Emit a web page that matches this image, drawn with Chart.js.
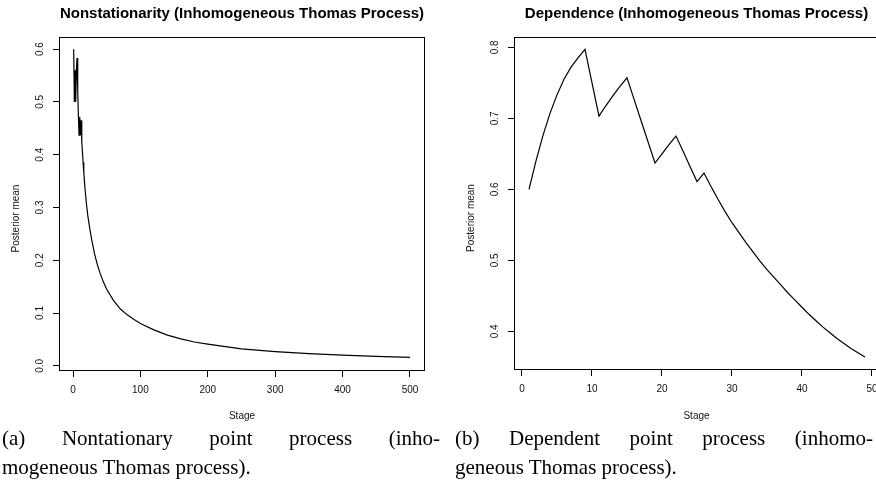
<!DOCTYPE html>
<html>
<head>
<meta charset="utf-8">
<script src="https://cdn.jsdelivr.net/npm/chart.js@4.4.1/dist/chart.umd.min.js"></script>
<style>
    body { margin: 0; width: 876px; height: 499px; overflow: hidden; background: #fff; position: relative; }
    .panel { position: absolute; top: 0; height: 430px; }
    .caption { position: absolute; top: 424px; font-family: "Liberation Serif", "Times New Roman", serif; font-size: 21px; line-height: 29px; color: #000; }
    .caption .first { text-align: justify; text-align-last: justify; }
</style>
</head>
<body>
<div class="panel" style="left:0;width:440px"><canvas id="nonstatChart"></canvas></div>
<div class="panel" style="left:440px;width:460px"><canvas id="depChart"></canvas></div>
<div class="caption" style="left:2px;width:438px">
    <div class="first">(a) Nontationary point process (inho-</div>
    <div>mogeneous Thomas process).</div>
</div>
<div class="caption" style="left:455px;width:418px">
    <div class="first">(b) Dependent point process (inhomo-</div>
    <div>geneous Thomas process).</div>
</div>

<script>
// === Data ===

// (a) nonstationary process: posterior mean by stage
const nonstatStages = [1, 2, 3, 4, 5, 6, 7, 8, 9, 10, 11, 12, 13, 14, 15, 16, 17, 18,
    20, 22, 25, 28, 32, 36, 40, 45, 50, 60, 70, 80, 90, 100,
    120, 140, 160, 180, 200, 250, 300, 350, 400, 450, 500];
const nonstatMeans = [0.600, 0.500, 0.560, 0.500, 0.560, 0.583, 0.520, 0.472, 0.437, 0.472, 0.437, 0.465, 0.425, 0.405, 0.385, 0.367, 0.349, 0.333,
    0.306, 0.284, 0.259, 0.237, 0.212, 0.192, 0.176, 0.159, 0.145, 0.124, 0.108, 0.097, 0.088, 0.080,
    0.068, 0.058, 0.051, 0.045, 0.041, 0.032, 0.027, 0.023, 0.020, 0.018, 0.016];
const nonstatXTicks = [0, 100, 200, 300, 400, 500];
const nonstatYTicks = [0.0, 0.1, 0.2, 0.3, 0.4, 0.5, 0.6];

// (b) dependent process: posterior mean by stage
const depStages = [1, 2, 3, 4, 5, 6, 7, 8, 9, 10, 11, 12, 13, 14, 15, 16, 17, 18, 19, 20,
    21, 22, 23, 24, 25, 26, 27, 28, 29, 30, 31, 32, 33, 34, 35, 36, 37, 38, 39, 40,
    41, 42, 43, 44, 45, 46, 47, 48, 49];
const depMeans = [0.600, 0.640, 0.676, 0.707, 0.733, 0.755, 0.772, 0.785, 0.797, 0.750,
    0.703, 0.718, 0.732, 0.745, 0.757, 0.727, 0.697, 0.667, 0.637, 0.650,
    0.663, 0.675, 0.654, 0.632, 0.611, 0.623, 0.604, 0.586, 0.569, 0.553,
    0.539, 0.525, 0.512, 0.499, 0.487, 0.476, 0.465, 0.454, 0.444, 0.434,
    0.424, 0.415, 0.406, 0.398, 0.390, 0.383, 0.376, 0.370, 0.364];
const depXTicks = [0, 10, 20, 30, 40, 50];
const depYTicks = [0.4, 0.5, 0.6, 0.7, 0.8];

const sansFont = "'Liberation Sans', Arial, Helvetica, sans-serif";

// R-like frame around the plot region, bold main title and the y label
const framePlugin = {
    id: "frame",
    afterDraw(chart, args, opts) {
        const { ctx, chartArea } = chart;
        ctx.save();
        ctx.strokeStyle = "#000";
        ctx.lineWidth = 1;
        const l = Math.round(chartArea.left) - 0.5;
        const t = Math.round(chartArea.top) + 0.5;
        const r = Math.round(chartArea.right) + 0.5;
        const b = Math.round(chartArea.bottom) + 0.5;
        ctx.strokeRect(l, t, r - l, b - t);

        ctx.fillStyle = "#000";
        ctx.font = "bold 15px " + sansFont;
        ctx.textAlign = "center";
        ctx.textBaseline = "middle";
        ctx.fillText(opts.text, (chartArea.left + chartArea.right) / 2, opts.y);

        // y label sits a little below the middle of the frame in the original
        ctx.fillStyle = "#111";
        ctx.font = "10px " + sansFont;
        ctx.translate(chartArea.left - opts.ylabGap, (chartArea.top + chartArea.bottom) / 2 + opts.ylabShift);
        ctx.rotate(-Math.PI / 2);
        ctx.fillText(opts.ylab, 0, 0);
        ctx.restore();
    }
};

function drawPanel(canvasId, stages, means, xTicks, yTicks, cfg) {
    const ctx = document.getElementById(canvasId).getContext("2d");
    const points = stages.map((s, i) => ({ x: s, y: means[i] }));

    const tickGrid = {
        display: true,
        drawOnChartArea: false,
        drawTicks: true,
        tickLength: 7,
        color: "#000",
        lineWidth: 1
    };

    new Chart(ctx, {
        type: "line",
        data: {
            datasets: [{
                data: points,
                borderColor: "#000",
                borderWidth: 1.2,
                pointRadius: 0,
                tension: 0,
                fill: false
            }]
        },
        options: {
            responsive: true,
            maintainAspectRatio: false,
            animation: false,
            layout: { padding: { top: 37, right: cfg.padRight, left: 0, bottom: 0 } },
            scales: {
                x: {
                    type: "linear",
                    min: cfg.xMin,
                    max: cfg.xMax,
                    afterBuildTicks: s => { s.ticks = xTicks.map(v => ({ value: v })); },
                    afterFit: s => { s.height = cfg.xHeight; },
                    grid: tickGrid,
                    border: { display: false },
                    ticks: {
                        autoSkip: false,
                        maxRotation: 0,
                        padding: 7,
                        color: "#111",
                        font: { family: sansFont, size: 10 },
                        callback: v => String(v)
                    },
                    title: {
                        display: true,
                        text: "Stage",
                        color: "#111",
                        font: { family: sansFont, size: 10 },
                        padding: { top: 0, bottom: 8 }
                    }
                },
                y: {
                    type: "linear",
                    min: cfg.yMin,
                    max: cfg.yMax,
                    afterBuildTicks: s => { s.ticks = yTicks.map(v => ({ value: v })); },
                    afterFit: s => { s.width = cfg.yWidth; },
                    grid: tickGrid,
                    border: { display: false },
                    ticks: {
                        autoSkip: false,
                        minRotation: 90,
                        maxRotation: 90,
                        crossAlign: "center",
                        padding: 6,
                        color: "#111",
                        font: { family: sansFont, size: 10 },
                        callback: v => v.toFixed(1)
                    }
                }
            },
            plugins: {
                legend: { display: false },
                tooltip: { enabled: false },
                frame: { text: cfg.title, y: 13.5, ylab: "Posterior mean", ylabGap: 44, ylabShift: 15 }
            }
        },
        plugins: [framePlugin]
    });
}

drawPanel("nonstatChart", nonstatStages, nonstatMeans, nonstatXTicks, nonstatYTicks, {
    title: "Nonstationarity (Inhomogeneous Thomas Process)",
    xMin: -19.3, xMax: 520.8, yMin: -0.008, yMax: 0.623,
    padRight: 16, xHeight: 60, yWidth: 60
});

drawPanel("depChart", depStages, depMeans, depXTicks, depYTicks, {
    title: "Dependence (Inhomogeneous Thomas Process)",
    xMin: -1, xMax: 50.86, yMin: 0.347, yMax: 0.8145,
    padRight: 22, xHeight: 61, yWidth: 75
});
</script>
</body>
</html>
